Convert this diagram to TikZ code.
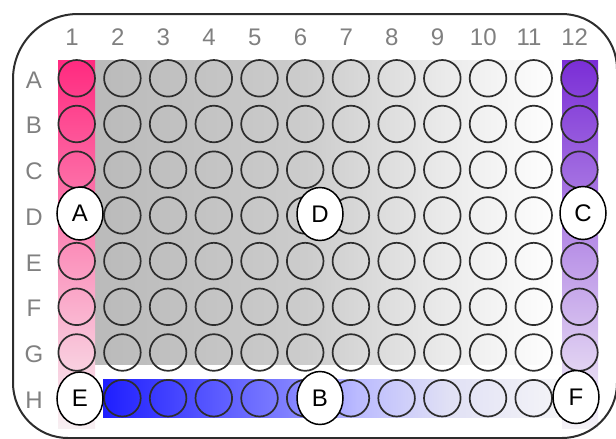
\documentclass[tikz,border=0pt]{standalone}
\usepackage{fontspec}
\setmainfont{Liberation Sans}
\usetikzlibrary{shapes.geometric}
\definecolor{wellline}{RGB}{45,45,45}
\definecolor{labelgray}{RGB}{128,128,128}
\pgfdeclarehorizontalshading{grayfade}{100bp}{rgb(0bp)=(0.73,0.73,0.73); rgb(25bp)=(0.73,0.73,0.73); rgb(47.5bp)=(0.8,0.8,0.8); rgb(62.5bp)=(0.92,0.92,0.92); rgb(75bp)=(1,1,1); rgb(100bp)=(1,1,1)}
\pgfdeclarehorizontalshading{bluefade}{100bp}{rgb(0bp)=(0.12,0.12,1); rgb(25bp)=(0.12,0.12,1); rgb(45bp)=(0.5,0.5,1); rgb(52.5bp)=(0.73,0.73,1); rgb(62.5bp)=(0.88,0.88,0.96); rgb(75bp)=(0.96,0.96,0.97); rgb(100bp)=(0.96,0.96,0.97)}
\pgfdeclareverticalshading{pinkfade}{100bp}{rgb(0bp)=(0.97,0.94,0.95); rgb(25bp)=(0.97,0.94,0.95); rgb(75bp)=(1,0.165,0.5); rgb(100bp)=(1,0.165,0.5)}
\pgfdeclareverticalshading{violetfade}{100bp}{rgb(0bp)=(0.96,0.95,0.97); rgb(25bp)=(0.96,0.95,0.97); rgb(75bp)=(0.48,0.18,0.84); rgb(100bp)=(0.48,0.18,0.84)}
\begin{document}
\begin{tikzpicture}[x=1pt, y=-1pt,
    well/.style={circle, draw=wellline, line width=1.7pt, minimum size=36.6pt, inner sep=0pt},
    tag/.style={ellipse, draw=black, line width=1.5pt, fill=white, minimum width=46pt, minimum height=53pt, inner sep=0pt, font=\fontsize{24pt}{28pt}\selectfont},
    axislabel/.style={text=labelgray, inner sep=0pt, font=\fontsize{24pt}{28pt}\selectfont}]
    \useasboundingbox (0,0) rectangle (616,439);
    \shade[shading=grayfade] (95,60) rectangle (562,364);
    \shade[shading=pinkfade] (58,60) rectangle (95,428);
    \shade[shading=violetfade] (562,60) rectangle (598,428);
    \shade[shading=bluefade] (103,379) rectangle (563,417);
    \draw[wellline, line width=2pt] (13,250) -- (13,79) arc[start angle=180, end angle=270, radius=65]
        -- (562,14) arc[start angle=270, end angle=360, radius=55]
        -- (617,383) arc[start angle=0, end angle=90, radius=55]
        -- (68,438) arc[start angle=90, end angle=180, radius=55] -- cycle;

    \foreach \r [count=\i from 0] in {A,...,H} {
        \node[axislabel] (row\r) at (34, 80+\i*45.7) {\r};
        \foreach \c in {1,...,12}
            \node[well] (w\r\c) at (31+\c*45.7, 78.3+\i*45.7) {};
    }
    \foreach \c in {1,...,12}
        \node[axislabel] (col\c) at (26.3+\c*45.7, 37) {\c};

    \node[tag] (tagA) at (80, 213.5) {A};
    \node[tag] (tagD) at (320, 214) {D};
    \node[tag] (tagC) at (583, 213) {C};
    \node[tag] (tagE) at (80, 398.5) {E};
    \node[tag] (tagB) at (320, 398) {B};
    \node[tag] (tagF) at (576, 397) {F};
\end{tikzpicture}
\end{document}
